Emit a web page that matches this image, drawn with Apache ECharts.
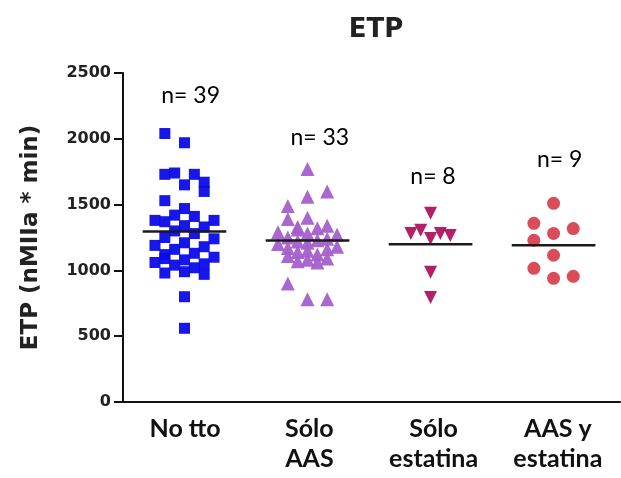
<!DOCTYPE html>
<html>
<head>
<meta charset="utf-8">
<script src="https://cdn.jsdelivr.net/npm/echarts@6/dist/echarts.min.js"></script>
<style>html,body{margin:0;padding:0;background:#fff;}#c{width:621px;height:478px;}</style>
</head>
<body>
<div id="c"></div>
<script>
// ---- data ----
var categories = ['No tto', 'Sólo\nAAS', 'Sólo\nestatina', 'AAS y\nestatina'];
var yTicks = [0, 500, 1000, 1500, 2000, 2500];

var noTto = [2040,1970,1730,1740,1730,1650,1670,1600,1530,1470,1420,1410,1380,1370,1380,1340,1330,1300,1280,1250,1240,1210,1190,1180,1160,1130,1120,1100,1080,1060,1050,1040,1020,990,980,970,1090,800,560];
var noTtoCol = [-2,0,-2,-1,1,0,2,2,-2,0,-1,1,-3,-2,3,0,2,-1,1,-2,3,0,-3,2,-1,1,-2,3,0,-3,2,-1,1,0,-2,2,-2,0,0];

var soloAAS = [1770,1600,1560,1490,1400,1390,1340,1320,1310,1290,1280,1270,1250,1240,1230,1220,1210,1200,1180,1170,1160,1150,1140,1120,1110,1090,1080,1070,1060,900,780,780,1330];
var soloAASCol = [0,2,0,-2,0,-2,2,1,-1,-3,0,3,-2,2,1,-1,0,-3,3,-2,2,0,-1,1,-2,2,0,-1,1,-2,0,2,-1];

var soloEstatina = [1434,1280,1305,1242,1280,1266,985,795];
var soloEstatinaCol = [0,-2,-1,0,1,2,0,0];

var aasEstatina = [1510,1358,1318,1281,1229,1115,1016,940,955];
var aasEstatinaCol = [0,-2,2,0,-2,0,-2,0,2];

// ---- layout / style ----
var groups = [
  {vals: noTto, cols: noTtoCol, color: '#0b0be8', symbol: 'rect', size: 11, rot: 0},
  {vals: soloAAS, cols: soloAASCol, color: '#a45fcc', symbol: 'triangle', size: 14, rot: 0},
  {vals: soloEstatina, cols: soloEstatinaCol, color: '#b0145e', symbol: 'triangle', size: 13, rot: 180},
  {vals: aasEstatina, cols: aasEstatinaCol, color: '#d8434f', symbol: 'circle', size: 13, rot: 0}
];
var colStep = 0.08;
var meanHalf = 0.34;
var nLabelY = [2330, 2010, 1710, 1840];
var nLabelDx = [0.05, 0.1, 0.02, 0.05];

var series = [];
groups.forEach(function (g, i) {
  var k = i + 1;
  series.push({
    type: 'scatter', xAxisIndex: 0, symbol: g.symbol, symbolSize: g.size, symbolRotate: g.rot,
    itemStyle: {color: g.color, opacity: 0.95},
    data: g.vals.map(function (v, j) { return [k + g.cols[j] * colStep, v]; }),
    z: 2
  });
  var mean = g.vals.reduce(function (a, b) { return a + b; }, 0) / g.vals.length;
  series.push({
    type: 'line', xAxisIndex: 0, symbol: 'none', silent: true,
    lineStyle: {color: '#1a1a1a', width: 2.5},
    data: [[k - meanHalf, mean], [k + meanHalf, mean]],
    z: 3
  });
});

var nLabels = groups.map(function (g, i) {
  return {value: [i + 1 + nLabelDx[i], nLabelY[i]], text: 'n= ' + g.vals.length};
});
series.push({
  type: 'scatter', xAxisIndex: 0, symbolSize: 1, silent: true,
  itemStyle: {color: 'rgba(0,0,0,0)'},
  label: {show: true, position: 'inside', formatter: function (p) { return p.data.text; },
    fontFamily: 'Lato', fontWeight: 'normal', fontSize: 23, color: '#000', opacity: 1},
  data: nLabels, z: 5
});

var chart = echarts.init(document.getElementById('c'));
chart.setOption({
  animation: false,
  backgroundColor: '#fff',
  title: {
    text: 'ETP', left: 371, top: 12, textAlign: 'center',
    textStyle: {fontFamily: 'DejaVu Sans', fontWeight: 'bold', fontSize: 26, color: '#222'}
  },
  grid: {left: 123, right: 1, top: 73, bottom: 76},
  xAxis: [{
    type: 'value', min: 0.5, max: 4.54, position: 'bottom',
    axisLine: {show: true, onZero: false, lineStyle: {color: '#111', width: 2}},
    axisTick: {show: false}, axisLabel: {show: false}, splitLine: {show: false}
  }, {
    type: 'category', data: categories, position: 'bottom', offset: 0,
    axisLine: {show: false}, axisTick: {show: false}, splitLine: {show: false},
    axisLabel: {margin: 12, fontFamily: 'Lato', fontWeight: 'bold', fontSize: 25, lineHeight: 30, color: '#111'}
  }],
  yAxis: {
    type: 'value', min: yTicks[0], max: yTicks[yTicks.length - 1], interval: yTicks[1] - yTicks[0],
    name: 'ETP (nMIIa * min)', nameLocation: 'middle', nameGap: 80,
    nameTextStyle: {fontFamily: 'DejaVu Sans', fontWeight: 'bold', fontSize: 23, color: '#222'},
    axisLine: {show: true, lineStyle: {color: '#111', width: 2}},
    axisTick: {show: true, inside: false, length: 9, lineStyle: {color: '#111', width: 2}},
    axisLabel: {margin: 12, fontFamily: 'DejaVu Sans', fontWeight: 'bold', fontSize: 16, color: '#222',
      formatter: function (v) { return String(v); }},
    splitLine: {show: false}
  },
  series: series
});
</script>
</body>
</html>
